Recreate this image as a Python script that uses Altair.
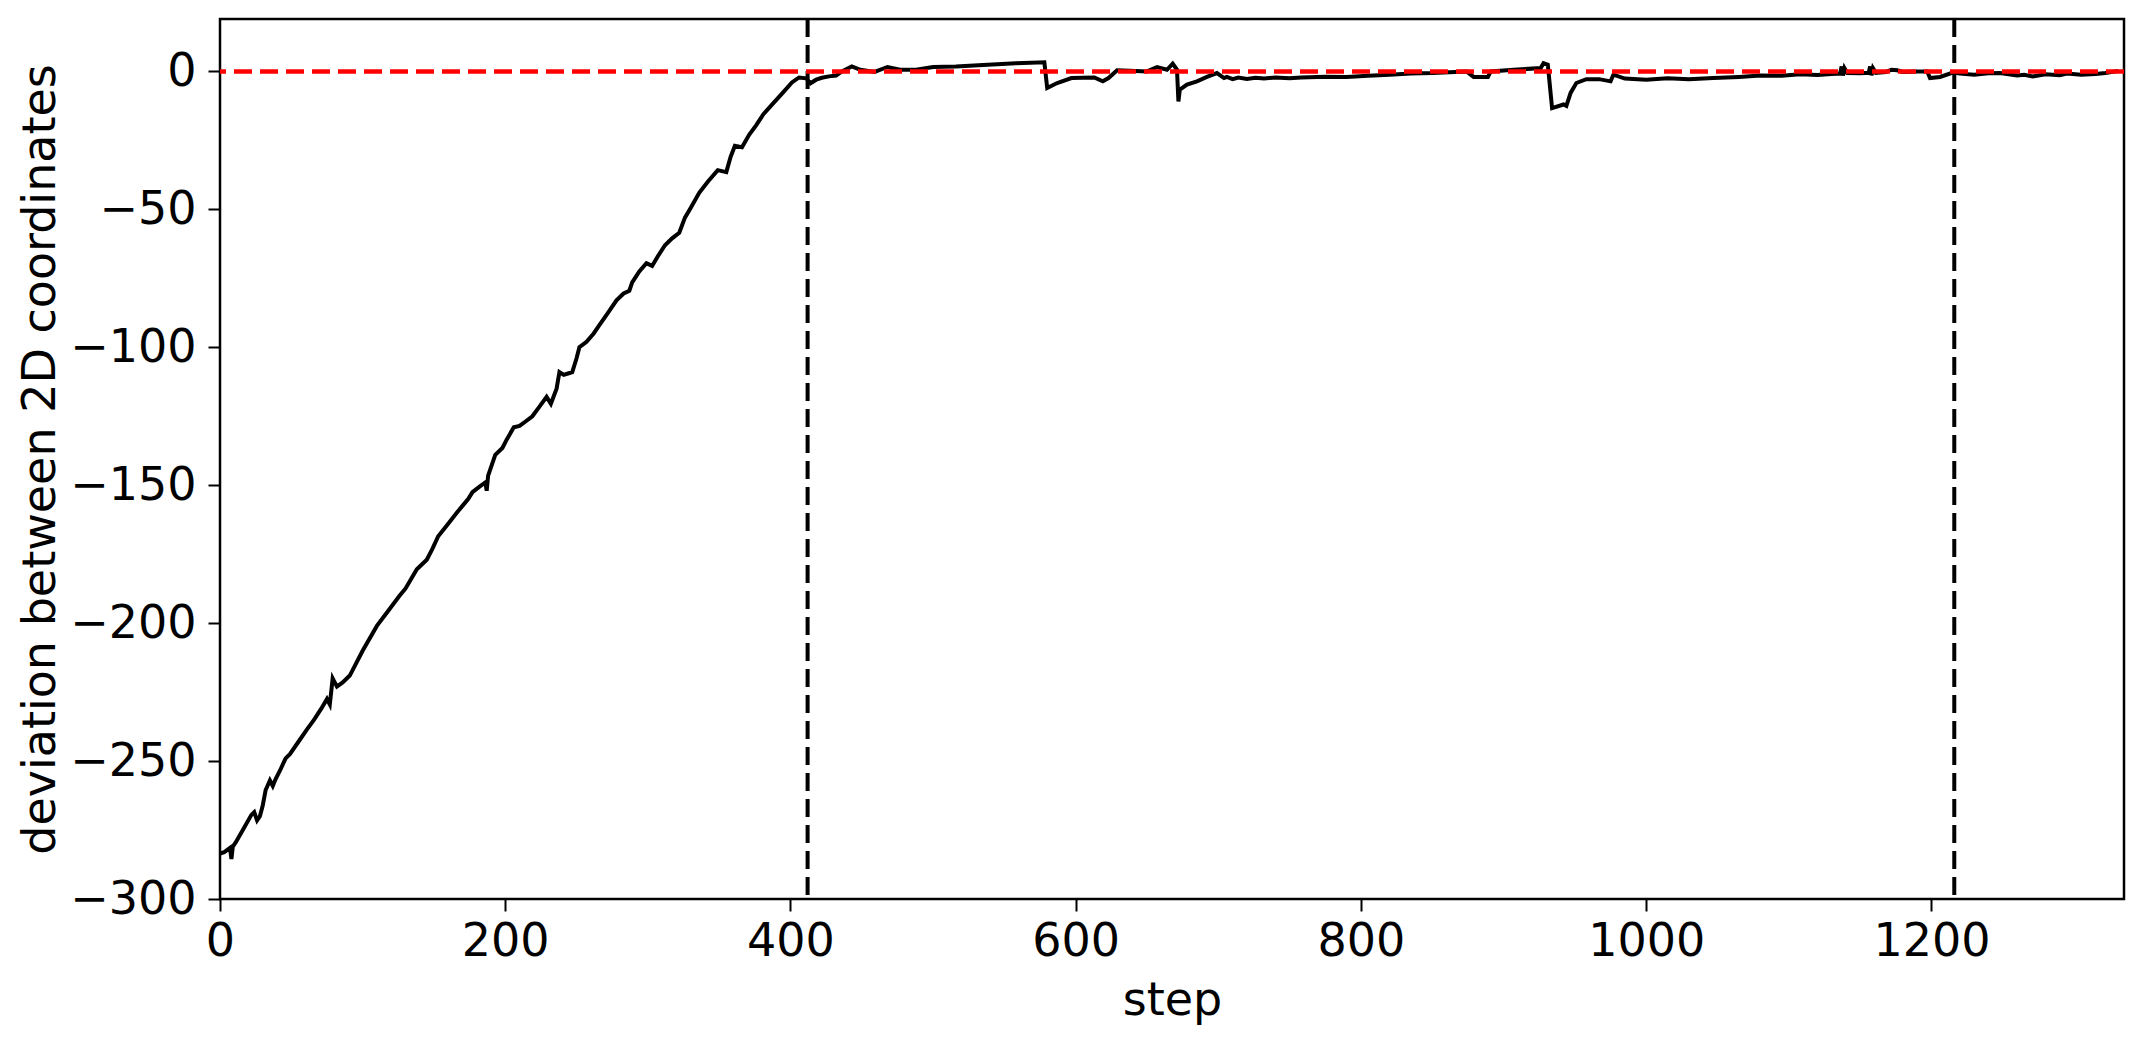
import altair as alt
import pandas as pd

# ---- data ----
steps = [0, 3, 7, 8, 9, 11, 16, 22, 24, 26, 28, 30, 32, 35, 37, 39, 42, 46, 49, 55,
         61, 66, 71, 75, 77, 79, 80, 82, 86, 91, 100, 110, 118, 126, 130, 134, 138, 145, 149, 153,
         160, 166, 170, 174, 177, 182, 186, 187, 188, 193, 198, 201, 206, 210, 214, 219, 224, 229, 232, 236,
         238, 241, 244, 247, 250, 252, 257, 262, 266, 272, 278, 283, 287, 289, 294, 299, 303, 307, 312, 317,
         322, 326, 330, 336, 342, 349, 355, 358, 361, 366, 371, 376, 381, 388, 395, 401, 406, 411, 414, 418,
         422, 427, 432, 436, 443, 449, 459, 468, 477, 488, 500, 516, 535, 558, 578, 580, 587, 597, 613, 619,
         623, 629, 638, 650, 657, 664, 668, 671, 672, 673, 678, 685, 692, 699, 704, 706, 710, 714, 720, 726,
         732, 740, 750, 758, 775, 790, 805, 820, 835, 850, 862, 874, 879, 889, 891, 907, 926, 928, 931, 934,
         942, 944, 947, 951, 958, 967, 975, 977, 985, 1000, 1015, 1030, 1047, 1065, 1080, 1095, 1108, 1120, 1130, 1136,
         1137, 1138, 1139, 1141, 1150, 1156, 1157, 1158, 1159, 1161, 1168, 1172, 1176, 1180, 1190, 1197, 1199, 1206, 1215, 1220,
         1230, 1240, 1248, 1260, 1265, 1271, 1280, 1290, 1295, 1305, 1315, 1322, 1331]
values = [-283.5, -283, -281.5, -285.5, -281, -279.5, -275, -269.5, -268.5, -271.5, -270, -266, -260.5, -257, -259, -256.5, -253.5, -249, -247.5, -243,
          -238.5, -235, -231, -227.5, -229.5, -220, -221, -223, -221.5, -219, -210, -201, -195.5, -190, -187.5, -184, -180.5, -177, -173, -168.5,
          -164, -160, -157.5, -155, -152.5, -150.5, -149, -152, -146.5, -139, -136.5, -133.5, -129, -128.5, -127, -125, -121.5, -118, -120.5, -115,
          -109, -110, -109.5, -109, -104, -100, -98, -95, -92, -87.5, -83, -80.5, -79.5, -76.5, -72.5, -69.5, -70.5, -67, -63, -60.5,
          -58.5, -53, -49.5, -44, -40, -35.8, -36.5, -31, -27, -27.5, -23, -19.5, -15.5, -11.5, -7.5, -4, -2.2, -2.5, -4.3, -3,
          -2.3, -1.8, -1.5, 0, 1.8, 0.6, -0.2, 1.6, 0.6, 0.6, 1.6, 1.8, 2.3, 3, 3.3, -6, -4.2, -2.4, -2.2, -3.6,
          -2.4, 0.4, 0.2, 0, 1.6, 0.6, 2.8, 0.6, -10.9, -6.6, -4.8, -3.6, -2, -0.6, -2.4, -2.0, -2.8, -2.2, -2.7, -2.3,
          -2.6, -2.2, -2.5, -2.2, -1.9, -2.0, -1.6, -1.2, -0.8, -0.6, -0.3, 0, -2, -2, 0, 0.6, 1.2, 3, 2.4, -13.3,
          -12, -12.5, -7.8, -4.2, -2.8, -2.8, -3.6, -1.2, -2.6, -3, -2.5, -2.8, -2.4, -2.0, -1.5, -1.6, -1.0, -1.3, -0.9, -0.8,
          1.8, -1.5, 1.2, -0.6, -0.7, -0.5, 1.8, -1.4, 1.2, -0.5, -0.2, 0.6, 0.4, -0.2, 0, 0, -2.4, -2, -0.4, -0.8,
          -1.2, -0.7, -0.6, -1.5, -1.2, -1.8, -1.0, -1.4, -0.8, -1.2, -0.9, -0.6, 0.2]
vlines = [412, 1216]
hline = [0]
x_ticks = [0, 200, 400, 600, 800, 1000, 1200]
y_ticks = [-300, -250, -200, -150, -100, -50, 0]

line_df = pd.DataFrame({"step": steps, "dev": values})
v_df = pd.DataFrame({"step": vlines})
h_df = pd.DataFrame({"dev": hline})

FONT = "DejaVu Sans"

x_enc = alt.X(
    "step:Q",
    scale=alt.Scale(domain=[0, 1335], nice=False, zero=False),
    axis=alt.Axis(values=x_ticks, title="step", grid=False, domain=False,
                  tickSize=12, tickWidth=2, tickColor="black", labelFlush=False,
                  labelPadding=8, titlePadding=14, format="d"),
)
y_enc = alt.Y(
    "dev:Q",
    scale=alt.Scale(domain=[-300, 19], nice=False, zero=False),
    axis=alt.Axis(values=y_ticks, title="deviation between 2D coordinates",
                  grid=False, domain=False, tickSize=12, tickWidth=2, labelFlush=False,
                  tickColor="black", labelPadding=12, titlePadding=5, format="d"),
)

line = alt.Chart(line_df).mark_line(color="black", strokeWidth=4).encode(x=x_enc, y=y_enc)

vrules = alt.Chart(v_df).mark_rule(color="black", strokeWidth=4, strokeDash=[18, 8]).encode(
    x=alt.X("step:Q")
)
hrule = alt.Chart(h_df).mark_rule(color="#ff0000", strokeWidth=4.5, strokeDash=[18, 8]).encode(
    y=alt.Y("dev:Q")
)

chart = (
    alt.layer(line, vrules, hrule)
    .properties(
        width=1904,
        height=880,
        autosize=alt.AutoSizeParams(type="none"),
        padding={"left": 212, "top": 11, "right": 12, "bottom": 130},
        background="white",
    )
    .configure_view(stroke="black", strokeWidth=2.5)
    .configure_axis(
        labelFont=FONT, titleFont=FONT, labelFontSize=46, titleFontSize=46,
        labelColor="black", titleColor="black", titleFontWeight="normal",
    )
)

chart.save("out.html", embed_options={"renderer": "svg", "actions": False})
